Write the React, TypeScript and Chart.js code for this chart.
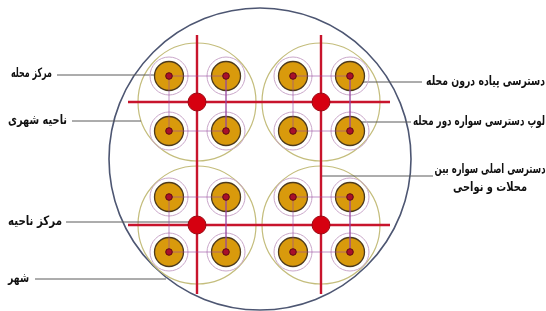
import React, { useEffect, useRef } from "react";
import { Chart, registerables } from "chart.js";

Chart.register(...registerables);

// City (outer circle)
const cityX = [260];
const cityY = [159];
const cityR = [151];

// Districts (urban regions) and their centres
const districtX = [197, 321, 197, 321];
const districtY = [102, 102, 225, 225];
const districtR = [59, 59, 59, 59];
const districtCentreR = [9, 9, 9, 9];

// Neighbourhoods (4 per district)
const hoodX = [169, 226, 169, 226, 293, 350, 293, 350, 169, 226, 169, 226, 293, 350, 293, 350];
const hoodY = [76, 76, 131, 131, 76, 76, 131, 131, 197, 197, 252, 252, 197, 197, 252, 252];
const hoodR = [14.5];
const hoodRingR = [19];
const hoodDotR = [3.3];

// Loop (ring road around neighbourhoods) – index order of the 4 hoods of each district
const loopOrder = [0, 1, 3, 2, 0];

// Main arterial roads
const roadX1 = [197, 321, 128, 128];
const roadY1 = [35, 35, 102, 225];
const roadX2 = [197, 321, 390, 390];
const roadY2 = [294, 294, 102, 225];

// Leader lines for the labels
const leaderX1 = [57, 72, 66, 35, 349, 350, 322];
const leaderY1 = [75, 121, 222, 279, 82, 122, 176];
const leaderX2 = [169, 141, 190, 166, 422, 411, 433];
const leaderY2 = [75, 121, 222, 279, 82, 122, 176];

// Labels
const labelText = [
  "مرکز محله",
  "ناحیه شهری",
  "مرکز ناحیه",
  "شهر",
  "دسترسی پیاده درون محله",
  "لوپ دسترسی سواره دور محله",
  "دسترسی اصلی سواره بین",
  "محلات و نواحی",
];
const labelX = [52, 67, 62, 29, 545, 545, 490, 490];
const labelY = [74, 121, 222, 279, 82, 122, 170, 188];
const labelWidth = [41, 59, 54, 21, 119, 132, 111, 74];
const labelAlign = ["right", "right", "right", "right", "right", "right", "center", "center"];

const labelPlugin = {
  id: "diagramLabels",
  afterDatasetsDraw(chart: any) {
    const { ctx, scales } = chart;
    ctx.save();
    ctx.fillStyle = "#111";
    ctx.font = "bold 13px 'DejaVu Sans'";
    ctx.textBaseline = "middle";
    ctx.direction = "rtl";
    labelText.forEach((t, i) => {
      ctx.textAlign = labelAlign[i] as CanvasTextAlign;
      ctx.fillText(t, scales.x.getPixelForValue(labelX[i]), scales.y.getPixelForValue(labelY[i]), labelWidth[i]);
    });
    ctx.restore();
  },
};

export default function App() {
  const ref = useRef<HTMLCanvasElement | null>(null);

  useEffect(() => {
    document.body.style.margin = "0";
    const canvas = ref.current;
    if (!canvas) return;

    const datasets: any[] = [];

    const seg = (x1: number, y1: number, x2: number, y2: number, color: string, width: number, order: number) => ({
      type: "line",
      data: [
        { x: x1, y: y1 },
        { x: x2, y: y2 },
      ],
      borderColor: color,
      borderWidth: width,
      pointRadius: 0,
      fill: false,
      tension: 0,
      clip: false,
      order,
    });

    // City circle
    datasets.push({
      type: "bubble",
      data: cityX.map((x, i) => ({ x, y: cityY[i], r: cityR[i] })),
      backgroundColor: "rgba(255,255,255,0)",
      borderColor: "#4d5672",
      borderWidth: 1.6,
      clip: false,
      order: 100,
    });

    // District circles
    datasets.push({
      type: "bubble",
      data: districtX.map((x, i) => ({ x, y: districtY[i], r: districtR[i] })),
      backgroundColor: "rgba(255,255,255,0)",
      borderColor: "#c4bd7c",
      borderWidth: 1.2,
      clip: false,
      order: 95,
    });

    // Leader lines
    leaderX1.forEach((x, i) => {
      datasets.push(seg(x, leaderY1[i], leaderX2[i], leaderY2[i], "#5a5a5a", 1, 90));
    });

    // Neighbourhood outer rings
    datasets.push({
      type: "bubble",
      data: hoodX.map((x, i) => ({ x, y: hoodY[i], r: hoodRingR[0] })),
      backgroundColor: "rgba(255,255,255,0)",
      borderColor: "#c9a6c9",
      borderWidth: 1,
      clip: false,
      order: 85,
    });

    // Main roads
    roadX1.forEach((x, i) => {
      datasets.push(seg(x, roadY1[i], roadX2[i], roadY2[i], "#c8142c", 2.4, 80));
    });

    // Neighbourhood discs
    datasets.push({
      type: "bubble",
      data: hoodX.map((x, i) => ({ x, y: hoodY[i], r: hoodR[0] })),
      backgroundColor: "#d99a0c",
      borderColor: "#4d3a1c",
      borderWidth: 1.3,
      clip: false,
      order: 70,
    });

    // Neighbourhood loops
    for (let d = 0; d < 4; d++) {
      datasets.push({
        type: "line",
        data: loopOrder.map((k) => ({ x: hoodX[d * 4 + k], y: hoodY[d * 4 + k] })),
        borderColor: "rgba(150,70,160,0.6)",
        borderWidth: 1,
        pointRadius: 0,
        fill: false,
        tension: 0,
        clip: false,
        order: 60,
      });
    }

    // Neighbourhood centres
    datasets.push({
      type: "bubble",
      data: hoodX.map((x, i) => ({ x, y: hoodY[i], r: hoodDotR[0] })),
      backgroundColor: "#a8102a",
      borderColor: "#5e0a14",
      borderWidth: 1,
      clip: false,
      order: 50,
    });

    // District centres
    datasets.push({
      type: "bubble",
      data: districtX.map((x, i) => ({ x, y: districtY[i], r: districtCentreR[i] })),
      backgroundColor: "#d60010",
      borderColor: "#9a0a14",
      borderWidth: 1,
      clip: false,
      order: 40,
    });

    const chart = new Chart(canvas, {
      type: "bubble",
      data: { datasets },
      options: {
        animation: false,
        responsive: false,
        events: [],
        layout: { padding: 0, autoPadding: false },
        plugins: { legend: { display: false }, tooltip: { enabled: false } },
        scales: {
          x: { type: "linear", min: 0, max: 546, display: false },
          y: { type: "linear", min: 0, max: 311, reverse: true, display: false },
        },
      },
      plugins: [labelPlugin],
    } as any);

    return () => chart.destroy();
  }, []);

  return (
    <div style={{ position: "absolute", left: 0, top: 0, width: 546, height: 311, background: "#fff" }}>
      <canvas ref={ref} width={546} height={311} style={{ display: "block", width: 546, height: 311 }} />
    </div>
  );
}
